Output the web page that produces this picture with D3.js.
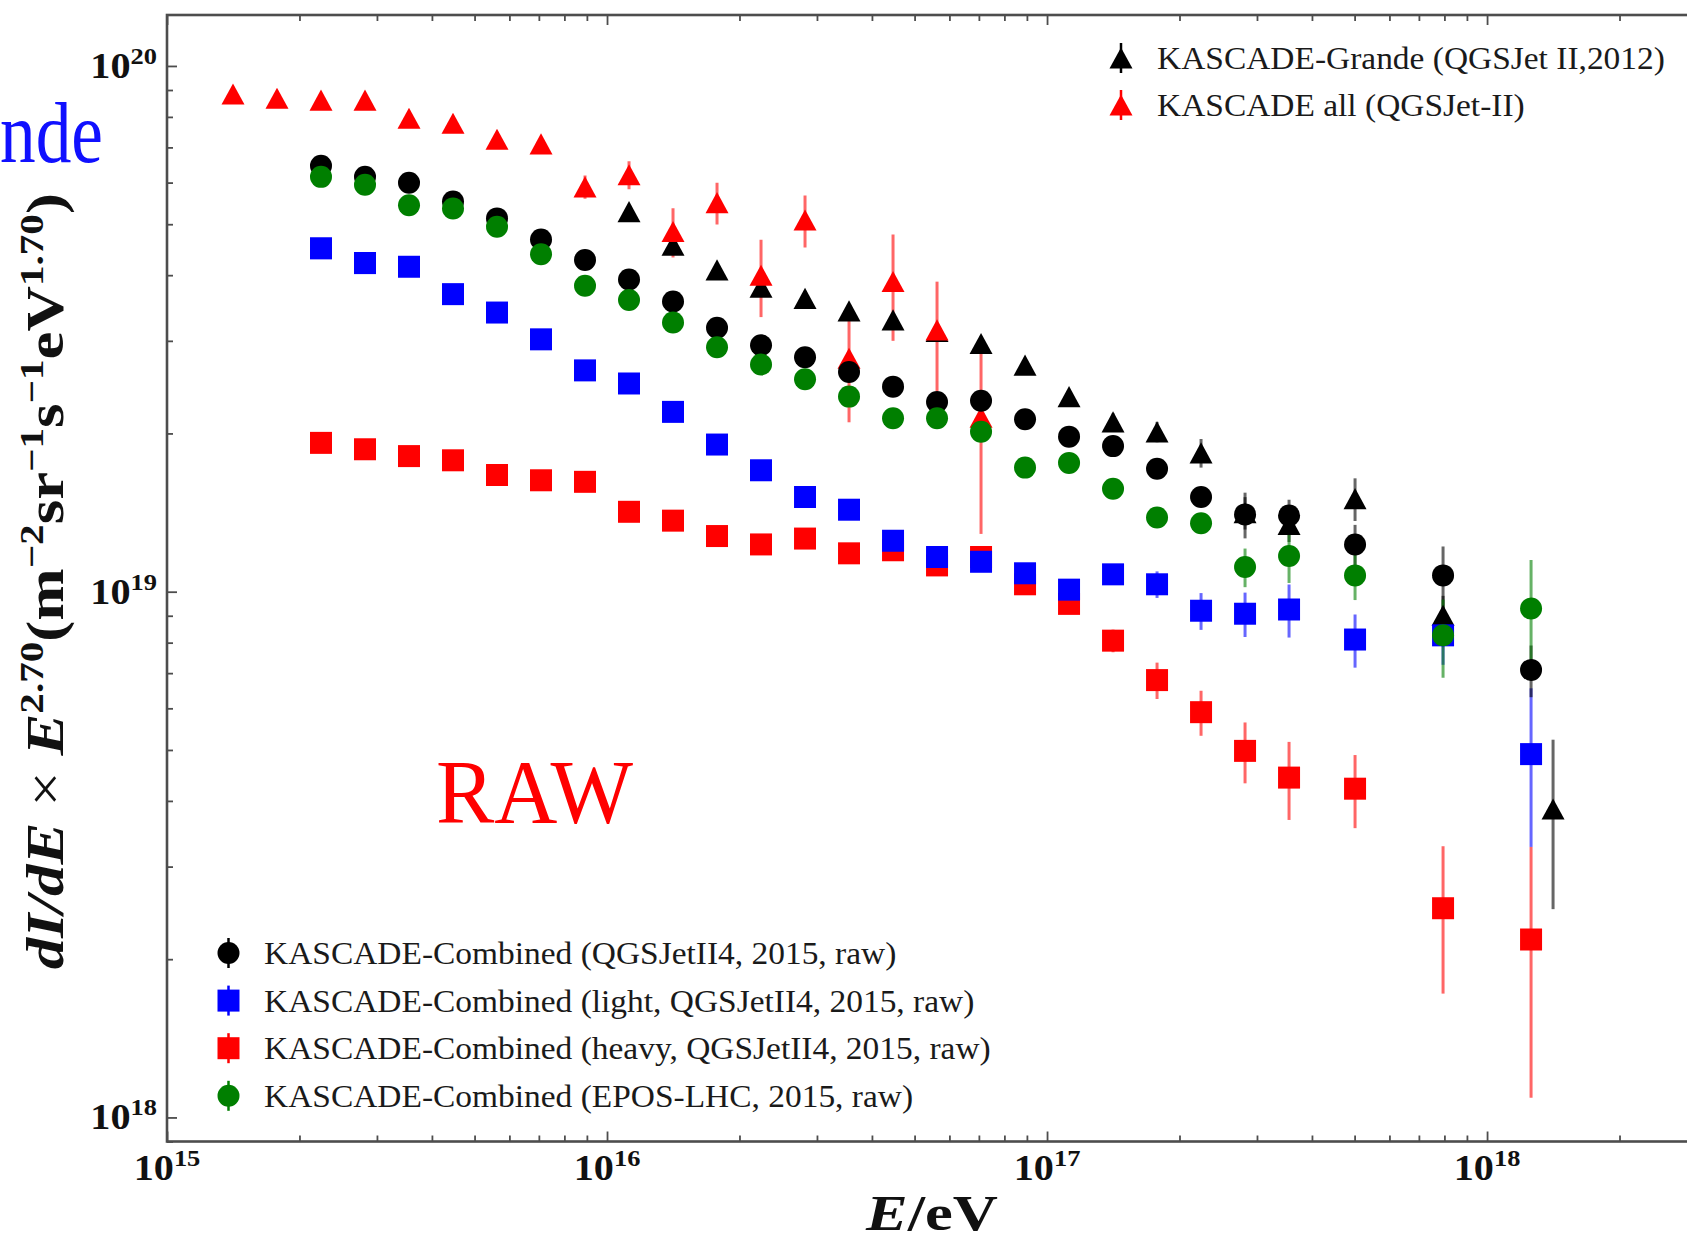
<!DOCTYPE html>
<html>
<head>
<meta charset="utf-8">
<script src="https://cdn.jsdelivr.net/npm/d3@7"></script>
<style>
  html, body { margin: 0; padding: 0; background: #fff; overflow: hidden; }
  svg { display: block; }
  text { font-family: "Liberation Serif", "Times New Roman", serif; }
</style>
</head>
<body>
<svg id="chart" width="1687" height="1242"></svg>
<script>
// ---- data: flux values are dI/dE * E^2.70 in units of 1e19 m^-2 sr^-1 s^-1 eV^1.70 ----
const UNIT = 1e19;

// KASCADE-Grande (QGSJet II, 2012)
const grandeLgE  = [16.05, 16.15, 16.25, 16.35, 16.45, 16.55, 16.65, 16.75, 16.85, 16.95,
                    17.05, 17.15, 17.25, 17.35, 17.45, 17.55, 17.7, 17.9, 18.15];
const grandeFlux = [5.284, 4.560, 4.093, 3.793, 3.614, 3.420, 3.289, 3.126, 2.965, 2.698,
                    2.350, 2.104, 2.014, 1.837, 1.413, 1.343, 1.503, 0.902, 0.386];
const grandeErr  = [0, 0, 0, 0, 0, 0, 0, 0, 0.03, 0.03,
                    0.04, 0.08, 0.09, 0.115, 0.10, 0.10, 0.14, 0.08, 0.137];

// KASCADE all-particle (QGSJet-II)
const kascadeLgE  = [15.15, 15.25, 15.35, 15.45, 15.55, 15.65, 15.75, 15.85, 15.95,
                     16.05, 16.15, 16.25, 16.35, 16.45, 16.55, 16.65, 16.75, 16.85];
const kascadeFlux = [8.845, 8.679, 8.610, 8.610, 7.954, 7.780, 7.253, 7.107, 5.888,
                     6.209, 4.842, 5.495, 3.999, 5.093, 2.780, 3.890, 3.148, 2.148];
const kascadeErr  = [0, 0, 0, 0, 0, 0, 0, 0, 0.30,
                     0.38, 0.52, 0.50, 0.67, 0.58, 0.68, 0.89, 0.74, 0.86];

// KASCADE-Combined 2015 (raw) energy bins
const combLgE = [15.35, 15.45, 15.55, 15.65, 15.75, 15.85, 15.95, 16.05, 16.15, 16.25,
                 16.35, 16.45, 16.55, 16.65, 16.75, 16.85, 16.95, 17.05, 17.15, 17.25,
                 17.35, 17.45, 17.55, 17.7, 17.9, 18.1];

// all particles, QGSJetII4
const combAllFlux = [6.457, 6.152, 5.998, 5.521, 5.129, 4.677, 4.276, 3.926, 3.565, 3.177,
                     2.944, 2.793, 2.618, 2.455, 2.296, 2.307, 2.128, 1.972, 1.892, 1.714,
                     1.514, 1.403, 1.396, 1.230, 1.074, 0.710];
const combAllErr  = [0, 0, 0, 0, 0, 0, 0, 0, 0, 0,
                     0, 0, 0, 0, 0, 0, 0, 0, 0, 0.03,
                     0.05, 0.14, 0.10, 0.11, 0.145, 0.08];

// light component, QGSJetII4
const combLightFlux = [4.498, 4.217, 4.150, 3.681, 3.396, 3.020, 2.636, 2.489, 2.198, 1.905,
                       1.702, 1.514, 1.432, 1.250, 1.164, 1.140, 1.084, 1.009, 1.079, 1.033,
                       0.920, 0.908, 0.925, 0.811, 0.826, 0.491];
const combLightErr  = [0, 0, 0, 0, 0, 0, 0, 0, 0, 0,
                       0, 0, 0, 0, 0, 0, 0, 0, 0, 0.06,
                       0.074, 0.088, 0.107, 0.094, 0.10, 0.164];

// heavy component, QGSJetII4
const combHeavyFlux = [1.919, 1.866, 1.811, 1.778, 1.667, 1.629, 1.618, 1.419, 1.365, 1.276,
                       1.230, 1.262, 1.183, 1.199, 1.122, 1.164, 1.033, 0.948, 0.807, 0.679,
                       0.590, 0.498, 0.443, 0.422, 0.250, 0.218];
const combHeavyErr  = [0, 0, 0, 0, 0, 0, 0, 0, 0, 0,
                       0, 0, 0, 0, 0, 0, 0, 0, 0.04, 0.054,
                       0.058, 0.066, 0.075, 0.067, 0.078, 0.109];

// all particles, EPOS-LHC
const combEposFlux = [6.152, 5.943, 5.433, 5.358, 4.943, 4.385, 3.819, 3.589, 3.251, 2.917,
                      2.704, 2.535, 2.350, 2.138, 2.138, 2.014, 1.722, 1.758, 1.570, 1.384,
                      1.349, 1.114, 1.169, 1.074, 0.826, 0.929];
const combEposErr  = [0, 0, 0, 0, 0, 0, 0, 0, 0, 0,
                      0, 0, 0, 0, 0, 0, 0, 0, 0, 0,
                      0.04, 0.094, 0.13, 0.11, 0.14, 0.22];

// axes
const xDomain = [1e15, 3e18];
const yDomain = [9e17, 1.25e20];
const xTickValues = [1e15, 1e16, 1e17, 1e18];
const xTickExp    = ["15", "16", "17", "18"];
const yTickValues = [1e18, 1e19, 1e20];
const yTickExp    = ["18", "19", "20"];

const legendTop = [
  { label: "KASCADE-Grande (QGSJet II,2012)", key: "grande" },
  { label: "KASCADE all (QGSJet-II)", key: "kascade" }
];
const legendBottom = [
  { label: "KASCADE-Combined (QGSJetII4, 2015, raw)", key: "all" },
  { label: "KASCADE-Combined (light, QGSJetII4, 2015, raw)", key: "light" },
  { label: "KASCADE-Combined (heavy, QGSJetII4, 2015, raw)", key: "heavy" },
  { label: "KASCADE-Combined (EPOS-LHC, 2015, raw)", key: "epos" }
];

// ---- layout ----
const svg = d3.select("#chart");
const X0 = 167, X1 = 1697, Y0 = 15, Y1 = 1141.5;
const FRAME = "#4d4d4d";

const x = d3.scaleLog().domain(xDomain).range([X0, X1]);
const y = d3.scaleLog().domain(yDomain).range([Y1, Y0]);

const COLORS = { black: "#000000", red: "#ff0000", blue: "#0000ff", green: "#007f00" };

const series = [
  { key: "grande",  lgE: grandeLgE,  flux: grandeFlux,    err: grandeErr,    shape: "triangle", color: COLORS.black },
  { key: "kascade", lgE: kascadeLgE, flux: kascadeFlux,   err: kascadeErr,   shape: "triangle", color: COLORS.red },
  { key: "heavy",   lgE: combLgE,    flux: combHeavyFlux, err: combHeavyErr, shape: "square",   color: COLORS.red },
  { key: "light",   lgE: combLgE,    flux: combLightFlux, err: combLightErr, shape: "square",   color: COLORS.blue },
  { key: "all",     lgE: combLgE,    flux: combAllFlux,   err: combAllErr,   shape: "circle",   color: COLORS.black },
  { key: "epos",    lgE: combLgE,    flux: combEposFlux,  err: combEposErr,  shape: "circle",   color: COLORS.green }
];
series.forEach(s => {
  s.pts = s.lgE.map((e, i) => ({ E: Math.pow(10, e), v: s.flux[i] * UNIT, err: s.err[i] * UNIT }));
});
const byKey = Object.fromEntries(series.map(s => [s.key, s]));

// upward triangle centred on its bounding box
const boxTriangle = {
  draw(ctx, size) {
    const w = Math.sqrt(size * 2.2), h = w * 0.92;
    ctx.moveTo(0, -h / 2);
    ctx.lineTo(w / 2, h / 2);
    ctx.lineTo(-w / 2, h / 2);
    ctx.closePath();
  }
};
const SYM = {
  circle:   d3.symbol().type(d3.symbolCircle).size(Math.PI * 11 * 11),
  square:   d3.symbol().type(d3.symbolSquare).size(22 * 22),
  triangle: d3.symbol().type(boxTriangle).size(240)
};

// ---- side label fragment ----
svg.append("text")
  .attr("x", 0).attr("y", 162)
  .attr("font-size", 86)
  .attr("fill", "#1010ff")
  .attr("textLength", 103)
  .attr("lengthAdjust", "spacingAndGlyphs")
  .text("nde");

// ---- plot contents ----
svg.append("clipPath").attr("id", "plotClip")
  .append("rect").attr("x", X0).attr("y", Y0).attr("width", X1 - X0).attr("height", Y1 - Y0);

const plot = svg.append("g").attr("clip-path", "url(#plotClip)");

// error bars first, then markers on top
const barsG = plot.append("g");
series.forEach(s => {
  barsG.append("g")
    .selectAll("line")
    .data(s.pts.filter(p => p.err > 0))
    .join("line")
    .attr("x1", p => x(p.E)).attr("x2", p => x(p.E))
    .attr("y1", p => y(p.v + p.err))
    .attr("y2", p => y(Math.max(p.v - p.err, yDomain[0] * 0.5)))
    .attr("stroke", s.color)
    .attr("stroke-opacity", 0.6)
    .attr("stroke-width", 3);
});

const marksG = plot.append("g");
series.forEach(s => {
  marksG.append("g")
    .selectAll("path")
    .data(s.pts)
    .join("path")
    .attr("transform", p => `translate(${x(p.E)},${y(p.v)})`)
    .attr("d", SYM[s.shape]())
    .attr("fill", s.color);
});

// ---- frame, ticks ----
const allX = x.ticks();
const allY = y.ticks();
const isMajor = v => Math.abs(Math.log10(v) - Math.round(Math.log10(v))) < 1e-9;
const xMinor = allX.filter(v => !isMajor(v));
const yMinor = allY.filter(v => !isMajor(v));

function tickAxis(axisFn, scale, values, size, transform) {
  svg.append("g")
    .attr("transform", transform)
    .call(axisFn(scale).tickValues(values).tickSize(size).tickSizeOuter(0).tickFormat(""))
    .call(g => g.select(".domain").remove())
    .call(g => g.selectAll("line").attr("stroke", FRAME).attr("stroke-width", 1.8));
}
tickAxis(d3.axisBottom, x, xTickValues, -10, `translate(0,${Y1})`);
tickAxis(d3.axisBottom, x, xMinor, -6, `translate(0,${Y1})`);
tickAxis(d3.axisTop, x, xTickValues, -10, `translate(0,${Y0})`);
tickAxis(d3.axisTop, x, xMinor, -6, `translate(0,${Y0})`);
tickAxis(d3.axisLeft, y, yTickValues, -10, `translate(${X0},0)`);
tickAxis(d3.axisLeft, y, yMinor, -6, `translate(${X0},0)`);
tickAxis(d3.axisRight, y, yTickValues, -10, `translate(${X1},0)`);
tickAxis(d3.axisRight, y, yMinor, -6, `translate(${X1},0)`);

svg.append("rect")
  .attr("x", X0).attr("y", Y0).attr("width", X1 - X0).attr("height", Y1 - Y0)
  .attr("fill", "none").attr("stroke", FRAME).attr("stroke-width", 2.6);

// ---- tick labels (powers of ten) ----
const TICK_FS = 35, SUP_FS = 23;
function powerLabel(d) {
  const t = d3.select(this);
  t.append("tspan").text("10");
  t.append("tspan").attr("dy", -14).attr("font-size", SUP_FS).text(d.exp);
}
svg.append("g").selectAll("text")
  .data(xTickValues.map((v, i) => ({ v, exp: xTickExp[i] })))
  .join("text")
  .attr("transform", d => `translate(${x(d.v)},${Y1 + 38}) scale(1.15,1)`)
  .attr("text-anchor", "middle")
  .attr("font-size", TICK_FS)
  .attr("font-weight", "bold")
  .attr("fill", "#111")
  .each(powerLabel);

svg.append("g").selectAll("text")
  .data(yTickValues.map((v, i) => ({ v, exp: yTickExp[i] })))
  .join("text")
  .attr("transform", d => `translate(${X0 - 10},${y(d.v) + 12}) scale(1.15,1)`)
  .attr("text-anchor", "end")
  .attr("font-size", TICK_FS)
  .attr("font-weight", "bold")
  .attr("fill", "#111")
  .each(powerLabel);

// ---- axis titles ----
const xTitle = svg.append("text")
  .attr("transform", `translate(${(X0 + X1) / 2},1230) scale(1.25,1)`)
  .attr("text-anchor", "middle")
  .attr("font-size", 50)
  .attr("font-weight", "bold")
  .attr("fill", "#111");
xTitle.append("tspan").attr("font-style", "italic").text("E");
xTitle.append("tspan").text("/eV");

const YT_FS = 52, YT_SUP = 34, YT_DY = 20;
const yTitle = svg.append("text")
  .attr("transform", `translate(63,${(Y0 + Y1) / 2 + 3}) rotate(-90) scale(1.21,1)`)
  .attr("text-anchor", "middle")
  .attr("font-size", YT_FS)
  .attr("font-weight", "bold")
  .attr("fill", "#111");
const yParts = [
  { t: "dI/dE", italic: true },
  { t: " \u00d7 ", normal: true },
  { t: "E", italic: true },
  { t: "2.70", sup: true },
  { t: "(m" },
  { t: "\u22122", sup: true },
  { t: "sr" },
  { t: "\u22121", sup: true },
  { t: "s" },
  { t: "\u22121", sup: true },
  { t: "eV" },
  { t: "1.70", sup: true },
  { t: ")" }
];
let raised = false;
yParts.forEach(p => {
  const ts = yTitle.append("tspan").text(p.t);
  if (p.italic) ts.attr("font-style", "italic");
  if (p.normal) ts.attr("font-weight", "normal");
  if (p.sup) {
    ts.attr("font-size", YT_SUP).attr("dy", raised ? 0 : -YT_DY);
    raised = true;
  } else if (raised) {
    ts.attr("dy", YT_DY);
    raised = false;
  }
});

// ---- RAW annotation ----
svg.append("text")
  .attr("x", 436).attr("y", 823)
  .attr("font-size", 92)
  .attr("fill", "#ff0000")
  .attr("textLength", 197)
  .attr("lengthAdjust", "spacingAndGlyphs")
  .text("RAW");

// ---- legends ----
function legendMarker(g, s, cx, cy) {
  g.append("line")
    .attr("x1", cx).attr("x2", cx).attr("y1", cy - 15).attr("y2", cy + 15)
    .attr("stroke", s.color).attr("stroke-width", 2.5);
  g.append("path")
    .attr("transform", `translate(${cx},${cy})`)
    .attr("d", SYM[s.shape]())
    .attr("fill", s.color);
}

const LEG_FS = 32, LEG_STRETCH = 1.045;
const legTop = svg.append("g");
legendTop.forEach((d, i) => {
  const cy = 58 + i * 47;
  legendMarker(legTop, byKey[d.key], 1121, cy);
  legTop.append("text")
    .attr("transform", `translate(1157,${cy + 11}) scale(${LEG_STRETCH},1)`)
    .attr("font-size", LEG_FS)
    .attr("fill", "#1a1a1a")
    .text(d.label);
});

const legBot = svg.append("g");
legendBottom.forEach((d, i) => {
  const cy = 953 + i * 47.6;
  legendMarker(legBot, byKey[d.key], 228.5, cy);
  legBot.append("text")
    .attr("transform", `translate(264,${cy + 11}) scale(${LEG_STRETCH},1)`)
    .attr("font-size", LEG_FS)
    .attr("fill", "#1a1a1a")
    .text(d.label);
});
</script>
</body>
</html>
